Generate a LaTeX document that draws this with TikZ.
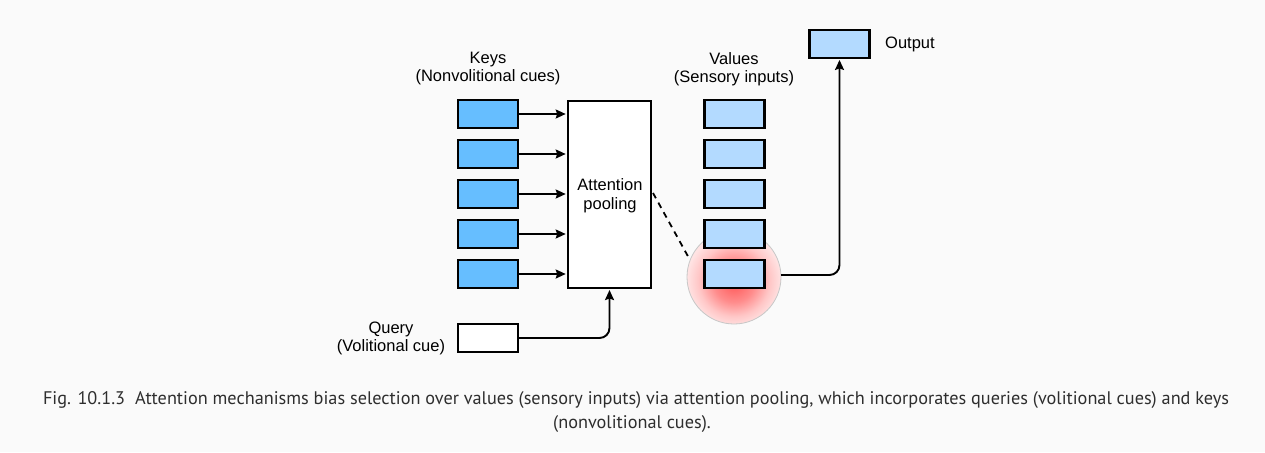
\documentclass[tikz,border=0pt]{standalone}
\usepackage{fontspec}
\setmainfont{Liberation Sans}
\newfontfamily\capfont{PT Sans}
\usetikzlibrary{arrows.meta,positioning}
\definecolor{bg}{HTML}{FAFAFA}
\definecolor{keyblue}{RGB}{102,190,255}
\definecolor{valblue}{RGB}{179,218,255}
\definecolor{captxt}{HTML}{2E2E2E}
\pgfdeclareradialshading{glow}{\pgfpoint{0bp}{-3bp}}{%
  color(0bp)=(red!66!white);
  color(11bp)=(red!45!white);
  color(19bp)=(red!22!white);
  color(25bp)=(red!11!white);
  color(50bp)=(red!11!white)}
\newlength\capw
\newcommand\capone{Fig. 10.1.3\hspace{0.55em}Attention mechanisms bias selection over values (sensory inputs) via attention pooling, which incorporates queries (volitional cues) and keys}
\newcommand\captwo{(nonvolitional cues).}
\tikzset{
  vec/.style={draw=black, line width=2.1pt, minimum width=60pt, minimum height=27.8pt, inner sep=0pt},
  keybox/.style={vec, fill=keyblue},
  valbox/.style={vec, fill=valblue},
  qbox/.style={vec, fill=white},
  conn/.style={line width=1.9pt, -{Stealth[length=10pt,width=9pt,inset=1.5pt]}, shorten >=1pt},
  lbl/.style={font=\fontsize{16.5}{18}\selectfont, align=center, inner sep=0pt, text=black},
}
\begin{document}
\settowidth\capw{\capfont\fontsize{18}{20}\selectfont\capone}
\pgfmathsetmacro\capfs{1186/\capw*18}
\begin{tikzpicture}[x=1pt,y=-1pt]
\useasboundingbox (0,0) rectangle (1265,452);
\fill[bg] (0,0) rectangle (1265,452);

% glow circle
\shade[shading=glow] (734,277) circle[radius=47];
\draw[black!22, line width=0.8pt] (734,277) circle[radius=47];

% keys and values
\foreach \i/\y in {1/114,2/154,3/194,4/234,5/274}{
  \node[keybox] (k\i) at (488,\y) {};
  \node[valbox] (v\i) at (734.5,\y) {};
}
\node[draw=black, line width=2.1pt, fill=white, minimum width=83.5pt, minimum height=187pt, inner sep=0pt] (att) at (609.5,194.5) {};
\node[lbl, font=\fontsize{16.5}{19}\selectfont] (atttxt) at (610,196) {Attention\\pooling};
\foreach \i in {1,...,5}{
  \draw[conn] (k\i.east) -- (k\i.east -| att.west);
}

\node[qbox] (q) at (488,338) {};
\node[lbl] (qlbl) at (391,338) {Query\\(Volitional cue)};
\node[lbl] (klbl) at (488,69) {Keys\\(Nonvolitional cues)};
\node[lbl] (vlbl) at (734,69) {Values\\(Sensory inputs)};

\node[valbox] (out) at (839.5,44) {};
\node[lbl, anchor=west] (outlbl) at (885,44.5) {Output};

\coordinate (glowe) at (781,275);
\coordinate (dashend) at (690,260);
\coordinate (dashstart) at (653,193);

\draw[conn, rounded corners=10pt] (q.east) -- (q.east -| att.south) -- (att.south);
\draw[conn, rounded corners=10pt] (glowe) -- (glowe -| out.south) -- (out.south);
\draw[line width=1.8pt, dash pattern=on 6pt off 5pt] (dashstart) -- (dashend);

% caption
\node[inner sep=0pt, text=captxt, font=\capfont\fontsize{\capfs}{24}\selectfont] (cap1) at (636,400) {\capone};
\node[inner sep=0pt, text=captxt, font=\capfont\fontsize{\capfs}{24}\selectfont] (cap2) at (632,424) {\captwo};
\end{tikzpicture}
\end{document}
